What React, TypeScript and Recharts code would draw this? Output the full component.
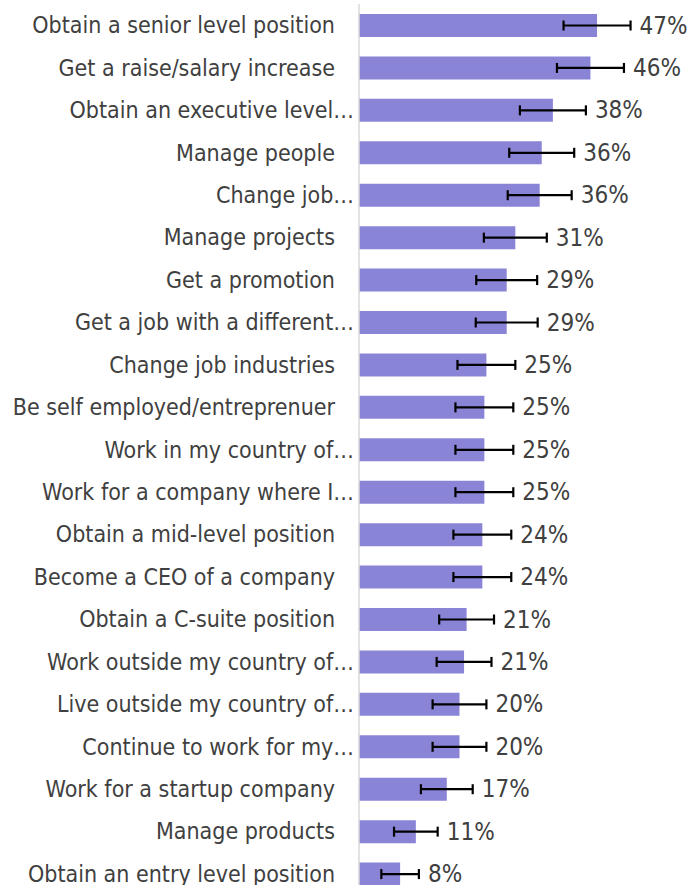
import { BarChart, Bar, XAxis, YAxis, ErrorBar, LabelList } from "recharts";

const goals = [
  "Obtain a senior level position",
  "Get a raise/salary increase",
  "Obtain an executive level…",
  "Manage people",
  "Change job…",
  "Manage projects",
  "Get a promotion",
  "Get a job with a different…",
  "Change job industries",
  "Be self employed/entreprenuer",
  "Work in my country of…",
  "Work for a company where I…",
  "Obtain a mid-level position",
  "Become a CEO of a company",
  "Obtain a C-suite position",
  "Work outside my country of…",
  "Live outside my country of…",
  "Continue to work for my…",
  "Work for a startup company",
  "Manage products",
  "Obtain an entry level position",
];

const shares = [
  46.9, 45.6, 38.2, 36.0, 35.6, 30.8, 29.1, 29.1, 25.1, 24.7, 24.7, 24.7, 24.3,
  24.3, 21.2, 20.7, 19.8, 19.8, 17.3, 11.2, 8.1,
];

const margins = [
  6.6, 6.6, 6.5, 6.4, 6.3, 6.2, 6.0, 6.1, 5.7, 5.7, 5.7, 5.7, 5.7, 5.7, 5.4,
  5.4, 5.3, 5.3, 5.1, 4.3, 3.7,
];

const rows = goals.map((goal, i) => ({
  goal,
  share: shares[i],
  err: margins[i],
}));

const FONT = "'DejaVu Sans Condensed', 'DejaVu Sans', sans-serif";
const TEXT = "#404040";

function GoalTick(props: any) {
  const { x, y, payload } = props;
  const label = String(payload.value);
  // truncated labels run right up to the axis
  const cut = label.endsWith("…");
  return (
    <text
      x={x + (cut ? 3 : -16)}
      y={y}
      textAnchor="end"
      dominantBaseline="central"
      fill={TEXT}
      fontSize={23}
      fontFamily={FONT}
      fontStretch="condensed"
    >
      {label}
    </text>
  );
}

function ShareLabel(props: any) {
  const { x, y, width, height, value, index } = props;
  const row = rows[index] ?? rows.find((r) => r.share === value);
  const perUnit = value ? width / value : 0;
  const tx = x + width + (row ? row.err : 0) * perUnit + 9;
  return (
    <text
      x={tx}
      y={y + height / 2}
      dominantBaseline="central"
      fill={TEXT}
      fontSize={24}
      fontFamily={FONT}
      fontStretch="condensed"
    >
      {Math.round(value)}%
    </text>
  );
}

export default function App() {
  return (
    <div
      style={{
        position: "fixed",
        left: 0,
        top: 0,
        width: 696,
        height: 885,
        overflow: "hidden",
        background: "#fff",
      }}
    >
      <BarChart
        layout="vertical"
        width={696}
        height={895}
        data={rows}
        margin={{ top: 4, right: 2, bottom: 0, left: 0 }}
        barSize={23}
      >
        <XAxis type="number" domain={[0, 66]} hide allowDataOverflow />
        <YAxis
          type="category"
          dataKey="goal"
          width={359}
          tickLine={false}
          axisLine={{ stroke: "#d9d9d9", strokeWidth: 1.5 }}
          tick={<GoalTick />}
          interval={0}
        />
        <Bar dataKey="share" fill="#8a84d7" isAnimationActive={false}>
          <ErrorBar
            dataKey="err"
            direction="x"
            width={5}
            stroke="#000"
            strokeWidth={2.2}
          />
          <LabelList dataKey="share" content={<ShareLabel />} />
        </Bar>
      </BarChart>
    </div>
  );
}
